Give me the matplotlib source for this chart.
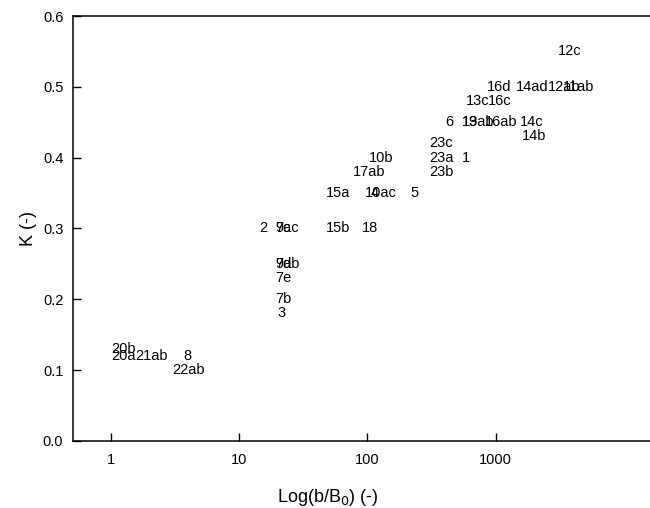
import matplotlib
matplotlib.use('Agg')
import matplotlib.pyplot as plt

plt.rcParams['font.family'] = ['Liberation Sans', 'DejaVu Sans']

# labels, b/B0 and K (text anchored at its left edge)
labels = ['20b', '20a', '21ab', '8', '22ab',
          '2', '7c', '9ac', '7d', '9ab', '7e', '7b', '3',
          '15b', '18', '15a', '10ac', '4', '5',
          '10b', '17ab', '23c', '23a', '23b', '1', '14b',
          '12c', '16d', '14ad', '12ab', '11ab', '13c', '16c',
          '6', '19', '13ab', '16ab', '14c']
b_ratio = [1.0, 1.0, 1.56, 3.68, 3.03,
           14.35, 19.0, 19.0, 19.0, 19.0, 19.0, 19.0, 19.8,
           47.5, 91.2, 47.5, 95.8, 106.7, 215,
           102.9, 76.8, 302, 302, 302, 550, 1599,
           3051, 861, 1435, 2549, 3326, 587, 877,
           403, 544, 544, 827, 1550]
K = [0.13, 0.12, 0.12, 0.12, 0.10,
     0.30, 0.30, 0.30, 0.25, 0.25, 0.23, 0.20, 0.18,
     0.30, 0.30, 0.35, 0.35, 0.35, 0.35,
     0.40, 0.38, 0.42, 0.40, 0.38, 0.40, 0.43,
     0.55, 0.50, 0.50, 0.50, 0.50, 0.48, 0.48,
     0.45, 0.45, 0.45, 0.45, 0.45]

fig = plt.figure(figsize=(6.5, 5.08), dpi=100)
ax = fig.add_axes([0.1123, 0.1319, 0.8877, 0.8366])

for lab, x, y in zip(labels, b_ratio, K):
    ax.text(x, y, lab, ha='left', va='center', fontsize=10.5, color='black')

ax.set_xscale('log')
ax.set_xlim(0.506, 16000)
ax.set_ylim(0, 0.6)
ax.set_xticks([1, 10, 100, 1000])
ax.set_xticklabels(['1', '10', '100', '1000'])
ax.minorticks_off()
ax.set_yticks([0.0, 0.1, 0.2, 0.3, 0.4, 0.5, 0.6])
ax.set_yticklabels(['0.0', '0.1', '0.2', '0.3', '0.4', '0.5', '0.6'])

ax.spines['right'].set_visible(False)
for s in ['left', 'bottom', 'top']:
    ax.spines[s].set_linewidth(1.1)
ax.tick_params(axis='both', direction='in', length=6, width=1.0, labelsize=10.5)
ax.tick_params(axis='x', pad=9)
ax.tick_params(axis='y', pad=7)

ax.set_xlabel(r'Log(b/B$_0$) (-)', fontsize=13)
ax.set_ylabel('K (-)', fontsize=13)
ax.xaxis.set_label_coords(0.442, -0.108)
ax.yaxis.set_label_coords(-0.062, 0.5)

plt.savefig('out.png', dpi=100)
